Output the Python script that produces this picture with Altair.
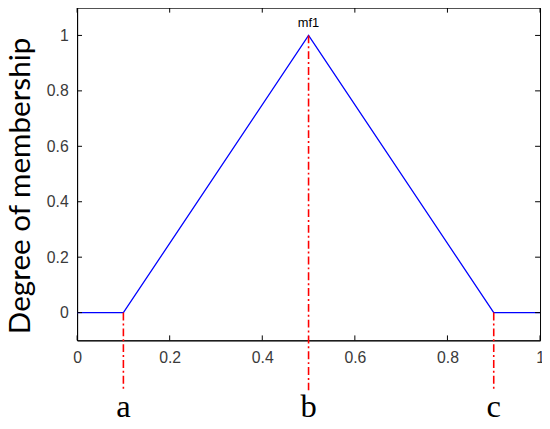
import altair as alt
import pandas as pd

# membership function vertices
mf_x = [0.0, 0.1, 0.5, 0.9, 1.0]
mf_y = [0.0, 0.0, 1.0, 0.0, 0.0]

# parameter markers
param_names = ["a", "b", "c"]
param_x = [0.1, 0.5, 0.9]
param_top = [0.0, 1.0, 0.0]
param_bottom = [-0.28, -0.28, -0.28]
param_label_y = [-0.34, -0.34, -0.34]

# tick values
x_ticks = [0, 0.2, 0.4, 0.6, 0.8, 1]
y_ticks = [0, 0.2, 0.4, 0.6, 0.8, 1]

W, H = 469, 337

mf = pd.DataFrame({"x": mf_x, "y": mf_y})
params = pd.DataFrame({"name": param_names, "x": param_x, "top": param_top,
                       "bottom": param_bottom, "ly": param_label_y})
peak = pd.DataFrame({"x": [0.5], "y": [1.0], "t": ["mf1"]})
xt = pd.DataFrame({"v": x_ticks})
yt = pd.DataFrame({"v": y_ticks})

xs = alt.Scale(domain=[0, 1], nice=False, zero=False)
ys = alt.Scale(domain=[-0.1, 1.1], nice=False, zero=False)

lbl = "datum.value == 0 || datum.value == 1 ? format(datum.value, 'd') : format(datum.value, '.1f')"

xaxis = alt.Axis(values=x_ticks, labelExpr=lbl,
                 title=None, grid=False, ticks=False, domainColor="black",
                 labelFont="Liberation Sans", labelFontSize=16, labelColor="#3a3a3a",
                 labelPadding=9, labelFlush=False)
yaxis = alt.Axis(values=y_ticks, labelExpr=lbl,
                 title="Degree of membership", grid=False, ticks=False, domainColor="black",
                 labelFont="Liberation Sans", labelFontSize=16, labelColor="#3a3a3a",
                 labelPadding=9, titleFont="Lato", titleFontSize=30, titleFontWeight="normal",
                 titleColor="black", titleX=-48, titleY=180, titleBaseline="alphabetic")

base_line = alt.Chart(mf).mark_line(color="#0000ff", strokeWidth=1.3).encode(
    x=alt.X("x:Q", scale=xs, axis=xaxis),
    y=alt.Y("y:Q", scale=ys, axis=yaxis),
)

rules = alt.Chart(params).mark_rule(color="#ff0000", strokeWidth=1.6,
                                    strokeDash=[8, 3, 2, 3], clip=False).encode(
    x="x:Q", y="top:Q", y2="bottom:Q")

labels = alt.Chart(params).mark_text(font="Liberation Serif", fontSize=33,
                                     color="black", baseline="middle", clip=False).encode(
    x="x:Q", y="ly:Q", text="name:N")

mf_label = alt.Chart(peak).mark_text(font="Liberation Sans", fontSize=13, color="black",
                                     baseline="bottom", dy=-6).encode(
    x="x:Q", y="y:Q", text="t:N")

# inward ticks (MATLAB style) on all four sides
xt_bottom = alt.Chart(xt).mark_rule(color="black").encode(
    x="v:Q", y=alt.value(H), y2=alt.value(H - 5))
xt_top = alt.Chart(xt).mark_rule(color="black").encode(
    x="v:Q", y=alt.value(0), y2=alt.value(5))
yt_left = alt.Chart(yt).mark_rule(color="black").encode(
    y="v:Q", x=alt.value(0), x2=alt.value(5))
yt_right = alt.Chart(yt).mark_rule(color="black").encode(
    y="v:Q", x=alt.value(W), x2=alt.value(W - 5))

chart = alt.layer(base_line, rules, labels, mf_label,
                  xt_bottom, xt_top, yt_left, yt_right).properties(
    width=W, height=H,
    autosize=alt.AutoSizeParams(type="none"),
    padding={"left": 70, "top": -3, "right": 2, "bottom": 78},
    background="white",
).configure_view(stroke="black", strokeWidth=1)

chart.save("out.html", embed_options={"renderer": "svg", "actions": False})
